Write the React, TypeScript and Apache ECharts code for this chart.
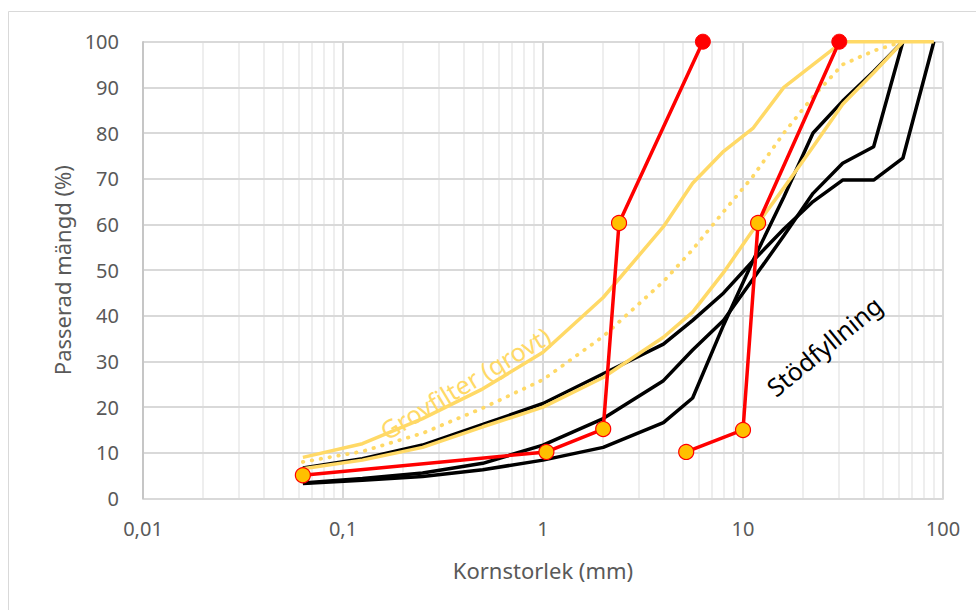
import React, { useEffect, useRef } from "react";
import * as echarts from "echarts";

// Sieve sizes (mm)
const sieves = [0.063, 0.125, 0.25, 0.5, 1, 2, 4, 5.6, 8, 11.2, 16, 22.4, 31.5, 45, 63, 90];

// Grovfilter (grovt) envelope, passing %
const grovUpper = [9, 12, 17.5, 24, 32, 44, 59.5, 69, 76, 81, 90, 95, 100, 100, 100, 100];
const grovMean = [8, 10.3, 14.3, 19.8, 26, 35.5, 47.5, 54.5, 62.8, 70.5, 80, 88, 95, 98, 100];
const grovLower = [6.5, 8.4, 11.2, 15.7, 20, 26.5, 35.3, 40.8, 49.5, 58.7, 68, 77, 86.3, 93.2, 100];

// Stödfyllning curves, passing %
const stodA = [6.7, 8.7, 11.7, 16.2, 20.8, 27.3, 33.8, 39, 45, 52, 59, 65, 69.7, 69.7, 74.5, 100];
const stodB = [3.4, 4.4, 5.6, 7.7, 11.7, 17.5, 25.8, 32.5, 39, 48, 57.5, 66.8, 73.4, 77, 100];
const stodC = [3.3, 4.0, 4.8, 6.3, 8.4, 11.2, 16.6, 22, 38, 52, 66, 80, 87, 93.5, 100];

// Measured samples (red)
const sample1X = [0.063, 1.04, 2, 2.4, 6.3];
const sample1Y = [5.1, 10.2, 15.2, 60.3, 100];
const sample2X = [5.2, 10, 11.9, 30.3];
const sample2Y = [10.2, 15, 60.3, 100];

// Minor grid positions on the log axis
const minorTicks = [
  0.02, 0.03, 0.04, 0.05, 0.06, 0.07, 0.08, 0.09,
  0.2, 0.3, 0.4, 0.5, 0.6, 0.7, 0.8, 0.9,
  2, 3, 4, 5, 6, 7, 8, 9,
  20, 30, 40, 50, 60, 70, 80, 90,
];

// Annotation labels: [x, y] in data coordinates
const labelGrov = { text: "Grovfilter (grovt)", at: [0.407, 25.3], angle: 31 };
const labelStod = { text: "Stödfyllning", at: [25.4, 33.4], angle: 39.5 };

const FONT = "'Noto Sans', 'DejaVu Sans', sans-serif";
const YELLOW = "#FFD966";
const RED = "#FF0000";
const ORANGE = "#FFC000";

function zip(xs: number[], ys: number[]) {
  return ys.map((y, i) => [xs[i], y]);
}

function sampleData(xs: number[], ys: number[]) {
  return ys.map((y, i) => {
    const last = i === ys.length - 1;
    return {
      value: [xs[i], y],
      symbolSize: last ? 15 : 15,
      itemStyle: last
        ? { color: RED, borderColor: RED, borderWidth: 1 }
        : { color: ORANGE, borderColor: RED, borderWidth: 1.2 },
    };
  });
}

export default function App() {
  const ref = useRef<HTMLDivElement>(null);

  useEffect(() => {
    document.body.style.margin = "0";
    const chart = echarts.init(ref.current!, null, { renderer: "svg" });

    const blackLine = (ys: number[]) => ({
      type: "line",
      data: zip(sieves, ys),
      symbol: "none",
      lineStyle: { color: "#000000", width: 3.5 },
      z: 3,
      silent: true,
    });

    const option: any = {
      animation: false,
      backgroundColor: "#ffffff",
      grid: { left: 143, right: 33, top: 41.7, bottom: 111.5 },
      xAxis: {
        type: "log",
        logBase: 10,
        min: 0.01,
        max: 100,
        splitNumber: 4,
        axisLine: { show: true, lineStyle: { color: "#BFBFBF", width: 1.5 } },
        axisTick: { show: false },
        axisLabel: {
          color: "#595959",
          fontFamily: FONT,
          fontSize: 20,
          margin: 20,
          formatter: (v: number) => String(+v.toPrecision(6)).replace(".", ","),
        },
        splitLine: { show: true, lineStyle: { color: "#D9D9D9", width: 2 } },
        name: "Kornstorlek (mm)",
        nameLocation: "middle",
        nameGap: 60,
        nameTextStyle: { color: "#595959", fontFamily: FONT, fontSize: 22 },
      },
      yAxis: {
        type: "value",
        min: 0,
        max: 100,
        interval: 10,
        z: 1.5,
        axisLine: { show: true, lineStyle: { color: "#BFBFBF", width: 1.5 } },
        axisTick: { show: false },
        axisLabel: { color: "#595959", fontFamily: FONT, fontSize: 20, margin: 24 },
        splitLine: { show: true, lineStyle: { color: "#D9D9D9", width: 2 } },
        name: "Passerad mängd (%)",
        nameLocation: "middle",
        nameGap: 70,
        nameTextStyle: { color: "#595959", fontFamily: FONT, fontSize: 22 },
      },
      series: [
        {
          type: "line",
          data: [],
          z: 1,
          silent: true,
          markLine: {
            z: 1,
            silent: true,
            symbol: ["none", "none"],
            label: { show: false },
            emphasis: { disabled: true },
            lineStyle: { color: "#EEEEEE", width: 2, type: "solid" },
            data: minorTicks.map((v) => ({ xAxis: v })),
          },
        },
        blackLine(stodA),
        blackLine(stodB),
        blackLine(stodC),
        {
          type: "line",
          data: zip(sieves, grovLower),
          symbol: "none",
          lineStyle: { color: YELLOW, width: 3.5 },
          z: 4,
        },
        {
          type: "line",
          data: zip(sieves, grovUpper),
          symbol: "none",
          lineStyle: { color: YELLOW, width: 3.5 },
          z: 4,
        },
        {
          type: "line",
          data: zip(sieves, grovMean),
          symbol: "none",
          lineStyle: { color: YELLOW, width: 3.8, type: [0.5, 8.5], cap: "round" },
          z: 4,
        },
        {
          type: "line",
          data: sampleData(sample1X, sample1Y),
          symbol: "circle",
          lineStyle: { color: RED, width: 3.5 },
          z: 5,
        },
        {
          type: "line",
          data: sampleData(sample2X, sample2Y),
          symbol: "circle",
          lineStyle: { color: RED, width: 3.5 },
          z: 5,
        },
      ],
    };

    chart.setOption(option);

    const toPx = (p: number[]) =>
      chart.convertToPixel({ xAxisIndex: 0, yAxisIndex: 0 }, p) as number[];
    const g = toPx(labelGrov.at);
    const s = toPx(labelStod.at);

    chart.setOption({
      graphic: [
        {
          type: "rect",
          shape: { x: 8.5, y: 11.5, width: 1200, height: 1200 },
          style: { fill: "none", stroke: "#D9D9D9", lineWidth: 1 },
          silent: true,
          z: -1,
        },
        {
          type: "text",
          x: g[0],
          y: g[1],
          rotation: (labelGrov.angle * Math.PI) / 180,
          style: {
            text: labelGrov.text,
            fill: YELLOW,
            font: `25px ${FONT}`,
            align: "center",
            verticalAlign: "middle",
          },
          z: 10,
        },
        {
          type: "text",
          x: s[0],
          y: s[1],
          rotation: (labelStod.angle * Math.PI) / 180,
          style: {
            text: labelStod.text,
            fill: "#000000",
            font: `25px ${FONT}`,
            align: "center",
            verticalAlign: "middle",
          },
          z: 10,
        },
      ],
    });

    return () => chart.dispose();
  }, []);

  return (
    <div
      ref={ref}
      style={{ position: "fixed", left: 0, top: 0, width: 976, height: 610 }}
    />
  );
}
